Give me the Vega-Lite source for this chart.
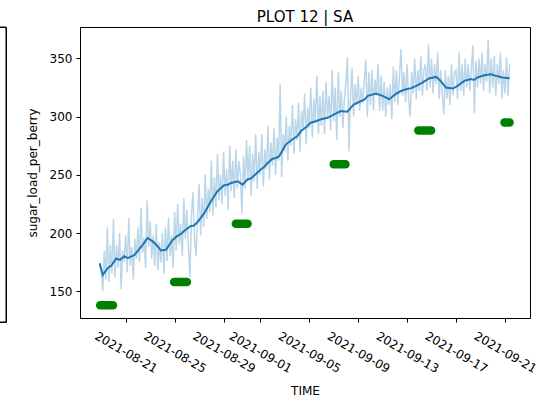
{
"$schema":"https://vega.github.io/schema/vega-lite/v6.json",
"padding":{"top":9,"left":-2,"right":0,"bottom":0},
"background":"white",
"bounds":"flush",
"spacing":74,
"config":{"font":"DejaVu Sans","view":{"stroke":"#000","strokeWidth":1},
"axis":{"grid":false,"domain":false,"tickColor":"#000","labelColor":"#000","titleColor":"#000","labelFont":"DejaVu Sans","titleFont":"DejaVu Sans","labelFontSize":12,"titleFontSize":12,"titleFontWeight":"normal","tickSize":4}},
"datasets":{
"raw":[
{"t":"2021-08-18T21:00","v":172},
{"t":"2021-08-19T00:00","v":168},{"t":"2021-08-19T03:00","v":150},{"t":"2021-08-19T06:00","v":185},{"t":"2021-08-19T09:00","v":160},{"t":"2021-08-19T12:00","v":205},{"t":"2021-08-19T15:00","v":158},{"t":"2021-08-19T18:00","v":190},{"t":"2021-08-19T21:00","v":165},
{"t":"2021-08-20T00:00","v":212},{"t":"2021-08-20T03:00","v":162},{"t":"2021-08-20T06:00","v":190},{"t":"2021-08-20T09:00","v":170},{"t":"2021-08-20T12:00","v":200},{"t":"2021-08-20T15:00","v":152},{"t":"2021-08-20T18:00","v":185},{"t":"2021-08-20T21:00","v":175},
{"t":"2021-08-21T00:00","v":198},{"t":"2021-08-21T03:00","v":166},{"t":"2021-08-21T06:00","v":213},{"t":"2021-08-21T09:00","v":172},{"t":"2021-08-21T12:00","v":188},{"t":"2021-08-21T15:00","v":160},{"t":"2021-08-21T18:00","v":195},{"t":"2021-08-21T21:00","v":178},
{"t":"2021-08-22T00:00","v":205},{"t":"2021-08-22T03:00","v":175},{"t":"2021-08-22T06:00","v":222},{"t":"2021-08-22T09:00","v":183},{"t":"2021-08-22T12:00","v":196},{"t":"2021-08-22T15:00","v":170},{"t":"2021-08-22T18:00","v":228},{"t":"2021-08-22T21:00","v":188},
{"t":"2021-08-23T00:00","v":210},{"t":"2021-08-23T03:00","v":178},{"t":"2021-08-23T06:00","v":198},{"t":"2021-08-23T09:00","v":172},{"t":"2021-08-23T12:00","v":208},{"t":"2021-08-23T15:00","v":168},{"t":"2021-08-23T18:00","v":192},{"t":"2021-08-23T21:00","v":175},
{"t":"2021-08-24T00:00","v":200},{"t":"2021-08-24T03:00","v":165},{"t":"2021-08-24T06:00","v":205},{"t":"2021-08-24T09:00","v":176},{"t":"2021-08-24T12:00","v":213},{"t":"2021-08-24T15:00","v":180},{"t":"2021-08-24T18:00","v":198},{"t":"2021-08-24T21:00","v":170},
{"t":"2021-08-25T00:00","v":218},{"t":"2021-08-25T03:00","v":185},{"t":"2021-08-25T06:00","v":225},{"t":"2021-08-25T09:00","v":190},{"t":"2021-08-25T12:00","v":208},{"t":"2021-08-25T15:00","v":180},{"t":"2021-08-25T18:00","v":230},{"t":"2021-08-25T21:00","v":195},
{"t":"2021-08-26T00:00","v":220},{"t":"2021-08-26T03:00","v":188},{"t":"2021-08-26T06:00","v":162},{"t":"2021-08-26T09:00","v":215},{"t":"2021-08-26T12:00","v":235},{"t":"2021-08-26T15:00","v":195},{"t":"2021-08-26T18:00","v":180},{"t":"2021-08-26T21:00","v":215},
{"t":"2021-08-27T00:00","v":242},{"t":"2021-08-27T03:00","v":198},{"t":"2021-08-27T06:00","v":230},{"t":"2021-08-27T09:00","v":205},{"t":"2021-08-27T12:00","v":250},{"t":"2021-08-27T15:00","v":212},{"t":"2021-08-27T18:00","v":238},{"t":"2021-08-27T21:00","v":218},
{"t":"2021-08-28T00:00","v":262},{"t":"2021-08-28T03:00","v":215},{"t":"2021-08-28T06:00","v":248},{"t":"2021-08-28T09:00","v":222},{"t":"2021-08-28T12:00","v":268},{"t":"2021-08-28T15:00","v":228},{"t":"2021-08-28T18:00","v":250},{"t":"2021-08-28T21:00","v":225},
{"t":"2021-08-29T00:00","v":270},{"t":"2021-08-29T03:00","v":232},{"t":"2021-08-29T06:00","v":255},{"t":"2021-08-29T09:00","v":220},{"t":"2021-08-29T12:00","v":275},{"t":"2021-08-29T15:00","v":236},{"t":"2021-08-29T18:00","v":262},{"t":"2021-08-29T21:00","v":230},
{"t":"2021-08-30T00:00","v":272},{"t":"2021-08-30T03:00","v":238},{"t":"2021-08-30T06:00","v":262},{"t":"2021-08-30T09:00","v":250},{"t":"2021-08-30T12:00","v":217},{"t":"2021-08-30T15:00","v":266},{"t":"2021-08-30T18:00","v":238},{"t":"2021-08-30T21:00","v":280},
{"t":"2021-08-31T00:00","v":245},{"t":"2021-08-31T03:00","v":275},{"t":"2021-08-31T06:00","v":232},{"t":"2021-08-31T09:00","v":268},{"t":"2021-08-31T12:00","v":244},{"t":"2021-08-31T15:00","v":285},{"t":"2021-08-31T18:00","v":238},{"t":"2021-08-31T21:00","v":270},
{"t":"2021-09-01T00:00","v":250},{"t":"2021-09-01T03:00","v":285},{"t":"2021-09-01T06:00","v":240},{"t":"2021-09-01T09:00","v":272},{"t":"2021-09-01T12:00","v":255},{"t":"2021-09-01T15:00","v":292},{"t":"2021-09-01T18:00","v":246},{"t":"2021-09-01T21:00","v":278},
{"t":"2021-09-02T00:00","v":258},{"t":"2021-09-02T03:00","v":290},{"t":"2021-09-02T06:00","v":250},{"t":"2021-09-02T09:00","v":282},{"t":"2021-09-02T12:00","v":262},{"t":"2021-09-02T15:00","v":328},{"t":"2021-09-02T18:00","v":248},{"t":"2021-09-02T21:00","v":285},
{"t":"2021-09-03T00:00","v":270},{"t":"2021-09-03T03:00","v":300},{"t":"2021-09-03T06:00","v":262},{"t":"2021-09-03T09:00","v":292},{"t":"2021-09-03T12:00","v":275},{"t":"2021-09-03T15:00","v":310},{"t":"2021-09-03T18:00","v":268},{"t":"2021-09-03T21:00","v":298},
{"t":"2021-09-04T00:00","v":280},{"t":"2021-09-04T03:00","v":312},{"t":"2021-09-04T06:00","v":270},{"t":"2021-09-04T09:00","v":305},{"t":"2021-09-04T12:00","v":290},{"t":"2021-09-04T15:00","v":320},{"t":"2021-09-04T18:00","v":276},{"t":"2021-09-04T21:00","v":308},
{"t":"2021-09-05T00:00","v":290},{"t":"2021-09-05T03:00","v":325},{"t":"2021-09-05T06:00","v":282},{"t":"2021-09-05T09:00","v":315},{"t":"2021-09-05T12:00","v":295},{"t":"2021-09-05T15:00","v":335},{"t":"2021-09-05T18:00","v":285},{"t":"2021-09-05T21:00","v":318},
{"t":"2021-09-06T00:00","v":292},{"t":"2021-09-06T03:00","v":322},{"t":"2021-09-06T06:00","v":285},{"t":"2021-09-06T09:00","v":330},{"t":"2021-09-06T12:00","v":298},{"t":"2021-09-06T15:00","v":318},{"t":"2021-09-06T18:00","v":288},{"t":"2021-09-06T21:00","v":340},
{"t":"2021-09-07T00:00","v":296},{"t":"2021-09-07T03:00","v":325},{"t":"2021-09-07T06:00","v":280},{"t":"2021-09-07T09:00","v":338},{"t":"2021-09-07T12:00","v":300},{"t":"2021-09-07T15:00","v":322},{"t":"2021-09-07T18:00","v":290},{"t":"2021-09-07T21:00","v":315},
{"t":"2021-09-08T00:00","v":330},{"t":"2021-09-08T03:00","v":351},{"t":"2021-09-08T06:00","v":270},{"t":"2021-09-08T09:00","v":318},{"t":"2021-09-08T12:00","v":342},{"t":"2021-09-08T15:00","v":300},{"t":"2021-09-08T18:00","v":328},{"t":"2021-09-08T21:00","v":310},
{"t":"2021-09-09T00:00","v":335},{"t":"2021-09-09T03:00","v":305},{"t":"2021-09-09T06:00","v":325},{"t":"2021-09-09T09:00","v":312},{"t":"2021-09-09T12:00","v":330},{"t":"2021-09-09T15:00","v":349},{"t":"2021-09-09T18:00","v":300},{"t":"2021-09-09T21:00","v":338},
{"t":"2021-09-10T00:00","v":310},{"t":"2021-09-10T03:00","v":340},{"t":"2021-09-10T06:00","v":305},{"t":"2021-09-10T09:00","v":332},{"t":"2021-09-10T12:00","v":318},{"t":"2021-09-10T15:00","v":345},{"t":"2021-09-10T18:00","v":305},{"t":"2021-09-10T21:00","v":335},
{"t":"2021-09-11T00:00","v":305},{"t":"2021-09-11T03:00","v":330},{"t":"2021-09-11T06:00","v":300},{"t":"2021-09-11T09:00","v":325},{"t":"2021-09-11T12:00","v":310},{"t":"2021-09-11T15:00","v":328},{"t":"2021-09-11T18:00","v":298},{"t":"2021-09-11T21:00","v":343},
{"t":"2021-09-12T00:00","v":312},{"t":"2021-09-12T03:00","v":340},{"t":"2021-09-12T06:00","v":310},{"t":"2021-09-12T09:00","v":335},{"t":"2021-09-12T12:00","v":358},{"t":"2021-09-12T15:00","v":318},{"t":"2021-09-12T18:00","v":338},{"t":"2021-09-12T21:00","v":312},
{"t":"2021-09-13T00:00","v":345},{"t":"2021-09-13T03:00","v":315},{"t":"2021-09-13T06:00","v":300},{"t":"2021-09-13T09:00","v":338},{"t":"2021-09-13T12:00","v":320},{"t":"2021-09-13T15:00","v":350},{"t":"2021-09-13T18:00","v":315},{"t":"2021-09-13T21:00","v":340},
{"t":"2021-09-14T00:00","v":322},{"t":"2021-09-14T03:00","v":352},{"t":"2021-09-14T06:00","v":318},{"t":"2021-09-14T09:00","v":340},{"t":"2021-09-14T12:00","v":345},{"t":"2021-09-14T15:00","v":322},{"t":"2021-09-14T18:00","v":362},{"t":"2021-09-14T21:00","v":325},
{"t":"2021-09-15T00:00","v":350},{"t":"2021-09-15T03:00","v":320},{"t":"2021-09-15T06:00","v":345},{"t":"2021-09-15T09:00","v":328},{"t":"2021-09-15T12:00","v":355},{"t":"2021-09-15T15:00","v":315},{"t":"2021-09-15T18:00","v":340},{"t":"2021-09-15T21:00","v":320},
{"t":"2021-09-16T00:00","v":302},{"t":"2021-09-16T03:00","v":340},{"t":"2021-09-16T06:00","v":315},{"t":"2021-09-16T09:00","v":335},{"t":"2021-09-16T12:00","v":310},{"t":"2021-09-16T15:00","v":345},{"t":"2021-09-16T18:00","v":318},{"t":"2021-09-16T21:00","v":338},
{"t":"2021-09-17T00:00","v":340},{"t":"2021-09-17T03:00","v":315},{"t":"2021-09-17T06:00","v":355},{"t":"2021-09-17T09:00","v":322},{"t":"2021-09-17T12:00","v":345},{"t":"2021-09-17T15:00","v":318},{"t":"2021-09-17T18:00","v":350},{"t":"2021-09-17T21:00","v":325},
{"t":"2021-09-18T00:00","v":345},{"t":"2021-09-18T03:00","v":322},{"t":"2021-09-18T06:00","v":340},{"t":"2021-09-18T09:00","v":361},{"t":"2021-09-18T12:00","v":303},{"t":"2021-09-18T15:00","v":348},{"t":"2021-09-18T18:00","v":325},{"t":"2021-09-18T21:00","v":350},
{"t":"2021-09-19T00:00","v":328},{"t":"2021-09-19T03:00","v":355},{"t":"2021-09-19T06:00","v":322},{"t":"2021-09-19T09:00","v":345},{"t":"2021-09-19T12:00","v":330},{"t":"2021-09-19T15:00","v":366},{"t":"2021-09-19T18:00","v":320},{"t":"2021-09-19T21:00","v":350},
{"t":"2021-09-20T00:00","v":325},{"t":"2021-09-20T03:00","v":352},{"t":"2021-09-20T06:00","v":318},{"t":"2021-09-20T09:00","v":345},{"t":"2021-09-20T12:00","v":328},{"t":"2021-09-20T15:00","v":355},{"t":"2021-09-20T18:00","v":315},{"t":"2021-09-20T21:00","v":340},
{"t":"2021-09-21T00:00","v":320},{"t":"2021-09-21T03:00","v":351},{"t":"2021-09-21T06:00","v":318},{"t":"2021-09-21T09:00","v":345}
],
"smooth":[
{"t":"2021-08-18T21:00","v":174},{"t":"2021-08-19T03:00","v":164},{"t":"2021-08-19T13:00","v":170},{"t":"2021-08-19T20:00","v":172},{"t":"2021-08-20T05:00","v":178},{"t":"2021-08-20T13:00","v":177},{"t":"2021-08-20T21:00","v":180},{"t":"2021-08-21T04:00","v":178.4},{"t":"2021-08-21T11:00","v":180},{"t":"2021-08-21T17:00","v":181},{"t":"2021-08-22T06:00","v":188},{"t":"2021-08-22T13:00","v":192},{"t":"2021-08-22T19:00","v":195.7},{"t":"2021-08-23T05:00","v":192.8},{"t":"2021-08-23T12:00","v":190},{"t":"2021-08-23T21:00","v":185},{"t":"2021-08-24T07:00","v":185.6},{"t":"2021-08-24T20:00","v":194},{"t":"2021-08-25T06:00","v":197.7},{"t":"2021-08-25T12:00","v":199},{"t":"2021-08-25T19:00","v":202},{"t":"2021-08-26T08:00","v":206},{"t":"2021-08-26T14:00","v":206.5},{"t":"2021-08-26T21:00","v":209.5},{"t":"2021-08-27T10:00","v":217},{"t":"2021-08-27T23:00","v":227},{"t":"2021-08-28T06:00","v":232},{"t":"2021-08-28T12:00","v":236},{"t":"2021-08-29T01:00","v":241},{"t":"2021-08-29T08:00","v":241.5},{"t":"2021-08-29T15:00","v":243},{"t":"2021-08-30T04:00","v":244.5},{"t":"2021-08-30T13:00","v":241.6},{"t":"2021-08-30T23:00","v":246},{"t":"2021-08-31T06:00","v":247},{"t":"2021-08-31T12:00","v":249.4},{"t":"2021-09-01T01:00","v":254.6},{"t":"2021-09-01T08:00","v":257},{"t":"2021-09-01T15:00","v":260.3},{"t":"2021-09-02T00:00","v":263.8},{"t":"2021-09-02T07:00","v":264.5},{"t":"2021-09-02T13:00","v":266},{"t":"2021-09-03T02:00","v":276},{"t":"2021-09-03T12:00","v":279.5},{"t":"2021-09-04T01:00","v":283.3},{"t":"2021-09-04T08:00","v":287.6},{"t":"2021-09-04T18:00","v":291},{"t":"2021-09-05T03:00","v":294.8},{"t":"2021-09-05T13:00","v":296},{"t":"2021-09-05T23:00","v":297.7},{"t":"2021-09-06T12:00","v":299},{"t":"2021-09-07T01:00","v":302},{"t":"2021-09-07T14:00","v":304.8},{"t":"2021-09-08T03:00","v":304.3},{"t":"2021-09-08T10:00","v":308},{"t":"2021-09-08T16:00","v":310.6},{"t":"2021-09-09T06:00","v":313.4},{"t":"2021-09-09T12:00","v":314.5},{"t":"2021-09-09T19:00","v":317.8},{"t":"2021-09-10T11:00","v":319.8},{"t":"2021-09-11T00:00","v":317.8},{"t":"2021-09-11T13:00","v":315},{"t":"2021-09-12T02:00","v":319.5},{"t":"2021-09-12T12:00","v":322},{"t":"2021-09-12T22:00","v":323.5},{"t":"2021-09-13T08:00","v":324.5},{"t":"2021-09-13T18:00","v":326.4},{"t":"2021-09-14T06:00","v":329.3},{"t":"2021-09-14T19:00","v":332.8},{"t":"2021-09-15T09:00","v":334.1},{"t":"2021-09-15T18:00","v":330.7},{"t":"2021-09-16T04:00","v":325},{"t":"2021-09-16T18:00","v":324.1},{"t":"2021-09-17T03:00","v":326.4},{"t":"2021-09-17T16:00","v":330.7},{"t":"2021-09-18T05:00","v":332.2},{"t":"2021-09-18T11:00","v":331.5},{"t":"2021-09-18T18:00","v":333.6},{"t":"2021-09-19T07:00","v":335.6},{"t":"2021-09-19T21:00","v":336.4},{"t":"2021-09-20T06:00","v":335},{"t":"2021-09-20T12:00","v":334.5},{"t":"2021-09-20T19:00","v":333.6},{"t":"2021-09-21T09:00","v":333}
],
"lab":[
{"g":1,"t":"2021-08-18T22:00","v":138},{"g":1,"t":"2021-08-19T23:00","v":138},
{"g":2,"t":"2021-08-24T23:00","v":158},{"g":2,"t":"2021-08-26T00:00","v":158},
{"g":3,"t":"2021-08-30T00:00","v":208},{"g":3,"t":"2021-08-30T23:00","v":208},
{"g":4,"t":"2021-09-07T00:00","v":259},{"g":4,"t":"2021-09-07T23:00","v":259},
{"g":5,"t":"2021-09-13T22:00","v":288},{"g":5,"t":"2021-09-14T23:00","v":288},
{"g":6,"t":"2021-09-20T23:00","v":295},{"g":6,"t":"2021-09-21T09:00","v":295}
]
},
"hconcat":[
{"width":7,"height":295,"view":{"stroke":"#000","strokeWidth":1},"data":{"values":[{"k":1}]},"mark":{"type":"rect","filled":false,"stroke":"#000","strokeWidth":1},"encoding":{}},
{"width":450,"height":291,
"title":{"text":"PLOT 12 | SA","fontSize":15,"fontWeight":"normal","font":"DejaVu Sans","color":"#000","offset":2,"frame":"group","anchor":"middle"},
"layer":[
{"data":{"name":"raw"},"mark":{"type":"line","color":"#1f77b4","strokeOpacity":0.3,"strokeWidth":1.5},
"encoding":{
"x":{"field":"t","type":"temporal","title":"TIME","scale":{"domain":[{"year":2021,"month":8,"date":17,"hours":6,"minutes":21},{"year":2021,"month":9,"date":23,"hours":1,"minutes":5}],"nice":false},
"axis":{"values":[{"year":2021,"month":8,"date":21},{"year":2021,"month":8,"date":25},{"year":2021,"month":8,"date":29},{"year":2021,"month":9,"date":1},{"year":2021,"month":9,"date":5},{"year":2021,"month":9,"date":9},{"year":2021,"month":9,"date":13},{"year":2021,"month":9,"date":17},{"year":2021,"month":9,"date":21}],"format":"%Y-%m-%d","labelAngle":30,"labelAlign":"center","labelBaseline":"middle","labelPadding":30,"labelOverlap":false,"labelFlush":false,"labelBound":false,"titlePadding":11}},
"y":{"field":"v","type":"quantitative","title":"sugar_load_per_berry","scale":{"domain":[127,377],"nice":false,"zero":false},
"axis":{"values":[150,200,250,300,350],"labelPadding":4,"titlePadding":10}}}},
{"data":{"name":"smooth"},"mark":{"type":"line","color":"#1f77b4","strokeWidth":2},
"encoding":{"x":{"field":"t","type":"temporal"},"y":{"field":"v","type":"quantitative"}}},
{"data":{"name":"lab"},"mark":{"type":"line","color":"#008000","strokeWidth":8.5,"strokeCap":"round"},
"encoding":{"x":{"field":"t","type":"temporal"},"y":{"field":"v","type":"quantitative"},"detail":{"field":"g","type":"nominal"}}}
]}
]
}
